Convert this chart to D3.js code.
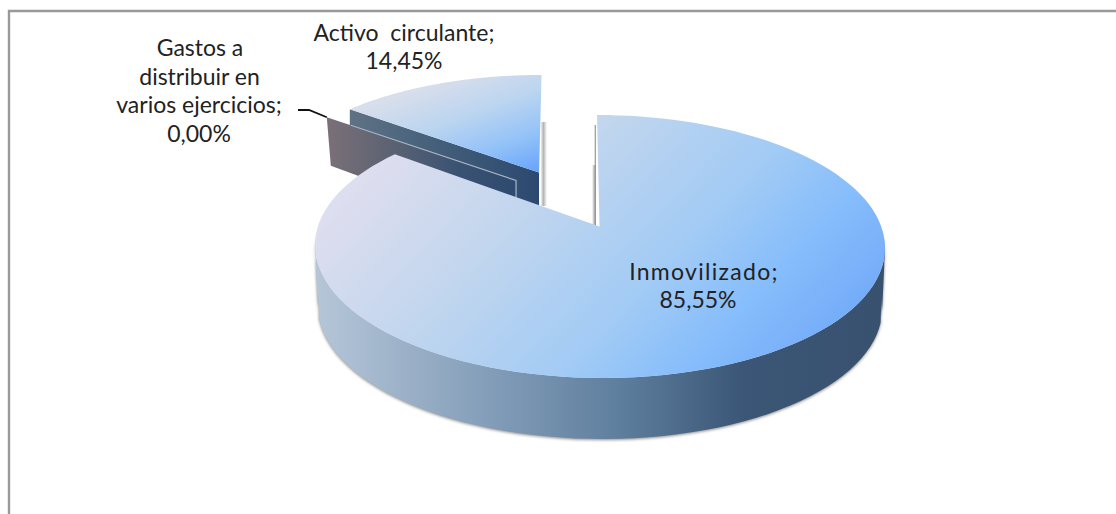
<!DOCTYPE html>
<html><head><meta charset="utf-8">
<script src="https://cdn.jsdelivr.net/npm/d3@7"></script>
<style>html,body{margin:0;padding:0;background:#fff;overflow:hidden}svg{display:block}
text{font-family:Lato,"Open Sans",sans-serif;font-size:23px;fill:#222;white-space:pre;text-anchor:middle}</style>
</head><body><svg id="c" width="1116" height="514"></svg>
<script>
const categories = ["Inmovilizado", "Gastos a distribuir en varios ejercicios", "Activo circulante"];
const values = [85.55, 0.00, 14.45];
const labelLines = [["Inmovilizado;", "85,55%"], ["Gastos a", "distribuir en", "varios ejercicios;", "0,00%"], ["Activo  circulante;", "14,45%"]];

const svg = d3.select("#c");
const defs = svg.append("defs");
function grad(id, x1, y1, x2, y2, stops) {
  const g = defs.append("linearGradient").attr("id", id).attr("gradientUnits", "userSpaceOnUse")
    .attr("x1", x1).attr("y1", y1).attr("x2", x2).attr("y2", y2);
  stops.forEach(s => g.append("stop").attr("offset", s[0]).attr("stop-color", s[1]));
}
grad("topMain", 420, 90, 770, 420, [[0,"#e0dff0"],[.1,"#d8dcee"],[.32,"#c2d6ee"],[.62,"#a2cbf5"],[.8,"#86bdfb"],[1,"#72a9f8"]]);
grad("wallMain", 315, 0, 885, 0, [[0,"#b6c6d8"],[.33,"#7f9ab6"],[.53,"#5f7f9e"],[.75,"#3b5676"],[1,"#38516f"]]);
grad("topAct", 470, 70, 510, 180, [[0,"#d8deeb"],[.35,"#bcd5f0"],[.7,"#93c2f8"],[1,"#6aa5fb"]]);
grad("wallAct", 351, 0, 540, 0, [[0,"#5f7285"],[.55,"#3f5b78"],[1,"#2c4870"]]);
grad("wallZero", 327, 0, 516, 0, [[0,"#7b7078"],[.35,"#5a6272"],[.7,"#3a5272"],[1,"#2e4a70"]]);
const gapG = defs.append("linearGradient").attr("id", "gap");
[[0,"#eeeeee"],[.4,"#b4b4b4"],[1,"#ffffff"]].forEach(s => gapG.append("stop").attr("offset", s[0]).attr("stop-color", s[1]));
const gapH = defs.append("linearGradient").attr("id", "gapR");
[[0,"#ffffff"],[.6,"#b0b0b0"],[1,"#8c8c8c"]].forEach(s => gapH.append("stop").attr("offset", s[0]).attr("stop-color", s[1]));
const sh = defs.append("filter").attr("id","sh").attr("x","-5%").attr("y","-5%").attr("width","110%").attr("height","115%");
sh.append("feGaussianBlur").attr("stdDeviation",1.6);

// Frame
svg.append("path").attr("d", d3.line()([[9,514],[9,11],[1116,11]])).attr("fill","none").attr("stroke","#999").attr("stroke-width",2.4);

// Perspective disc: unit circle to screen ellipse
const xS = d3.scaleLinear().domain([-1,1]).range([315,885]);
const yS = d3.scaleLinear().domain([-1,1]).range([115,378]);
const a = -0.152, depth = 61;
function proj(u, v) {
  const d = 1 + a * v;
  const w = (v + a) / (1 + a * v);
  const X = u * Math.sqrt(1 - a * a) / d;
  return [xS(X) + w * 3, yS(w)];
}
const apex = proj(0, 0);
const arcs = d3.pie().sort(null).startAngle(0).endAngle(2 * Math.PI).value(d => d)(values);
const pt = (ang, r) => proj(r * Math.sin(ang), -r * Math.cos(ang));
const arcPts = (s, e) => d3.range(0, 121).map(i => s + (e - s) * i / 120);
const kx = 0.94, ky = 0.875, shear = -0.05;
const placed = (p, dx, dy) => {
  const ry = ky * (p[1] - apex[1]);
  return [apex[0] + kx * (p[0] - apex[0]) + shear * ry + dx, apex[1] + ry + dy];
};
const line = d3.line();

const dep2 = depth * ky;
const act = arcs[2], zero = arcs[1], main = arcs[0];
const actDx = -60.5, actDy = -54, zeroDx = -83.5, zeroDy = -46;

// Shadows at the gap
svg.append("rect").attr("x",541).attr("y",122).attr("width",6).attr("height",84).attr("fill","url(#gap)");
svg.append("rect").attr("x",592).attr("y",165).attr("width",4).attr("height",60).attr("fill","url(#gapR)");
svg.append("rect").attr("x",594).attr("y",125).attr("width",2).attr("height",40).attr("fill","url(#gapR)");

// Activo wall
const aApex = placed(apex, actDx, actDy);
const aLeft = placed(pt(act.startAngle, 1), actDx, actDy);
svg.append("path").attr("d", line([aLeft, aApex, [aApex[0], aApex[1] + dep2], [aLeft[0], aLeft[1] + dep2]]) + "Z").attr("fill", "url(#wallAct)");

// Zero slice: a single wall standing in front of the Activo wall
const zOuter = placed(pt(zero.startAngle, 1), zeroDx, zeroDy);
const zApex = placed(apex, zeroDx, zeroDy);
svg.append("path").attr("d", line([zOuter, zApex, [zApex[0], zApex[1] + dep2], [zOuter[0] + 4, zOuter[1] + dep2 - 5]]) + "Z").attr("fill", "url(#wallZero)");
svg.append("path").attr("d", line([[zOuter[0] + 24, zOuter[1] + 8], zApex, [zApex[0], zApex[1] + 17]])).attr("fill","none").attr("stroke","#aab6c4").attr("stroke-width",1.2);

// Activo top
svg.append("path").attr("d", line(arcPts(act.startAngle, act.endAngle).map(t => placed(pt(t, 1), actDx, actDy)).concat([aApex])) + "Z").attr("fill", "url(#topAct)");

// Main wall, shadow, top
const outer = arcPts(main.startAngle, main.endAngle).map(t => pt(t, 1));
const wallPts = outer.filter(p => p[1] > yS(-0.1));
const ordered = wallPts.slice().sort((p, q) => p[0] - q[0]);
const lower = ordered.slice().reverse().map(p => [600 + (p[0] - 600) * 0.99, p[1] + depth]);
const wallPath = line(ordered.concat(lower)) + "Z";
svg.append("path").attr("d", wallPath).attr("fill", "#8a8a8a").attr("filter", "url(#sh)").attr("transform","translate(0,1)");
svg.append("path").attr("d", wallPath).attr("fill", "url(#wallMain)");
svg.append("path").attr("d", line(outer.concat([apex])) + "Z").attr("fill", "url(#topMain)");

// Leader line of the zero slice
svg.append("path").attr("d", d3.line()([[298,110],[309,110],[zOuter[0], zOuter[1]]])).attr("fill","none").attr("stroke","#111").attr("stroke-width",1.8);

// Labels
const labelX = [[704, 698], [200, 199.5, 199, 199], [404, 404]];
const labelY = [272, 48, 33], lead = [28, 28.5, 28];
const spacing = [[1.3, 0], [0, 0, 0, 0], [0, 0]];
labelLines.forEach((ls, i) => ls.forEach((t, j) => {
  svg.append("text").attr("x", labelX[i][j]).attr("y", labelY[i] + j * lead[i]).attr("dy", "0.35em")
    .style("letter-spacing", spacing[i][j] + "px").text(t);
}));
</script></body></html>
